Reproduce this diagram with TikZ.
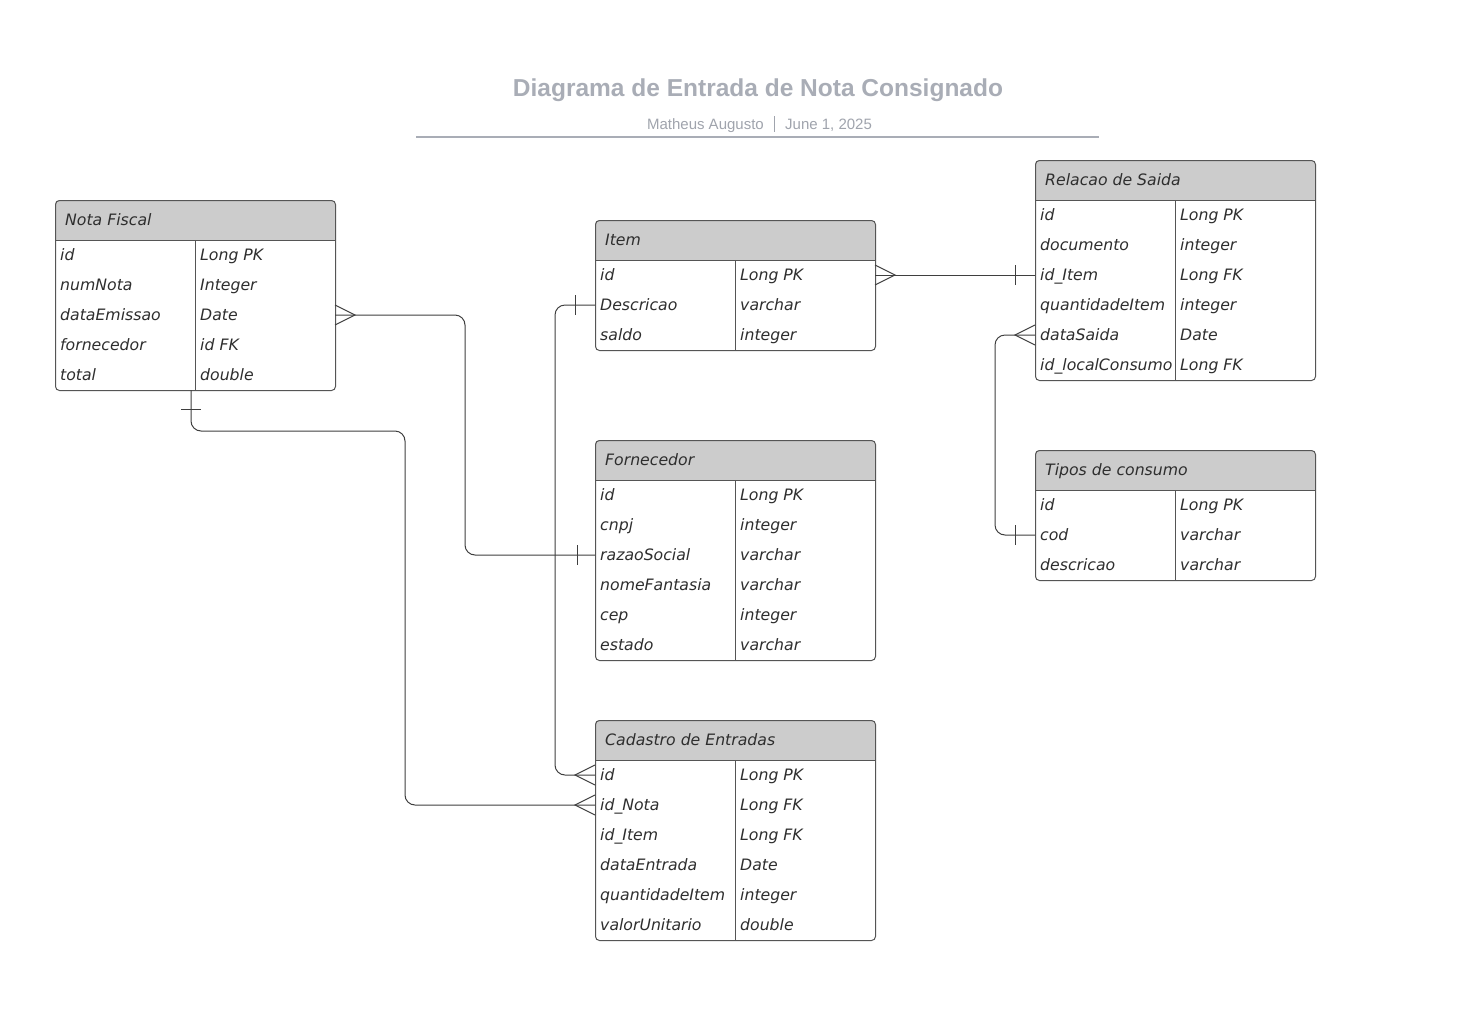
\documentclass[tikz,border=0pt]{standalone}
\usepackage{fontspec}
\setmainfont{DejaVu Sans}
\newfontfamily\titlefont{Liberation Sans}
\usetikzlibrary{calc}
\definecolor{hdrgray}{HTML}{CCCCCC}
\definecolor{bordergray}{HTML}{555555}
\definecolor{txtgray}{HTML}{2E2E2E}
\definecolor{titlegray}{HTML}{A9ADB6}
\definecolor{subgray}{HTML}{A0A4AD}
\definecolor{conngray}{HTML}{3F3F3F}
\tikzset{
  tblbox/.style={draw=bordergray, line width=1pt, rounded corners=4pt, minimum width=280pt, inner sep=0pt},
  tblline/.style={draw=bordergray, line width=1pt},
  hdrtext/.style={inner sep=0pt, text=txtgray, font=\fontsize{15.7}{18}\selectfont\itshape},
  rowtext/.style={inner sep=0pt, text=txtgray, font=\fontsize{15.7}{18}\selectfont\itshape},
  conn/.style={draw=conngray, line width=1pt},
}
\newcommand\ertable[6]{%
  \pgfmathsetmacro\hh{40+30*#4}%
  \begin{scope}
    \clip[rounded corners=4pt] (#2,#3) rectangle ++(280,\hh);
    \fill[white] (#2,#3) rectangle ++(280,\hh);
    \fill[hdrgray] (#2,#3) rectangle ++(280,40);
  \end{scope}
  \node[tblbox, minimum height=\hh pt, anchor=north west] (#1) at (#2,#3) {};
  \draw[tblline] (#2,#3+40) -- ++(280,0);
  \draw[tblline] (#2+140,#3+40) -- (#2+140,#3+\hh);
  \node[hdrtext, anchor=base west] (#1-h) at (#2+10,#3+25.7) {#5};
  \foreach \a/\b [count=\i] in {#6} {
    \node[rowtext, anchor=base west] (#1-a\i) at (#2+5,#3+30.7+30*\i) {\a};
    \node[rowtext, anchor=base west] (#1-b\i) at (#2+145,#3+30.7+30*\i) {\b};
    \coordinate (#1-L\i) at (#2,#3+25+30*\i);
    \coordinate (#1-R\i) at (#2+280,#3+25+30*\i);
  }
}
\newcommand\crowR[1]{\draw[conn] ([shift={(0,-10)}]#1) -- ([shift={(20,0)}]#1) -- ([shift={(0,10)}]#1);}
\newcommand\crowL[1]{\draw[conn] ([shift={(0,-10)}]#1) -- ([shift={(-20,0)}]#1) -- ([shift={(0,10)}]#1);}
\newcommand\barL[2]{\draw[conn] ([shift={(-#2,-10)}]#1) -- ([shift={(-#2,10)}]#1);}
\begin{document}
\begin{tikzpicture}[x=1pt,y=-1pt]
\useasboundingbox (0,0) rectangle (1478,1010);
\fill[white] (0,0) rectangle (1478,1010);

% title block
\node[text=titlegray, font=\titlefont\bfseries\fontsize{24.5}{28}\selectfont, anchor=base, inner sep=0pt] (title) at (758,96.5) {Diagrama de Entrada de Nota Consignado};
\node[text=subgray, font=\titlefont\fontsize{15}{17}\selectfont, anchor=base east, inner sep=0pt] (author) at (764,129.5) {Matheus Augusto};
\node[text=subgray, font=\titlefont\fontsize{15}{17}\selectfont, anchor=base west, inner sep=0pt] (date) at (785,129.5) {June 1, 2025};
\coordinate (sepT) at (774,116);
\coordinate (sepB) at (774,132);
\draw[subgray, line width=0.8pt] (sepT) -- (sepB);
\coordinate (ruleL) at (416,136.5);
\coordinate (ruleR) at (1099,136.5);
\draw[titlegray, line width=2pt] (ruleL) -- (ruleR);

% tables
\ertable{nf}{55}{200}{5}{Nota Fiscal}{id/Long PK, numNota/Integer, dataEmissao/Date, fornecedor/id FK, total/double}
\ertable{it}{595}{220}{3}{Item}{id/Long PK, Descricao/varchar, saldo/integer}
\ertable{fo}{595}{440}{6}{Fornecedor}{id/Long PK, cnpj/integer, razaoSocial/varchar, nomeFantasia/varchar, cep/integer, estado/varchar}
\ertable{cd}{595}{720}{6}{Cadastro de Entradas}{id/Long PK, id\_Nota/Long FK, id\_Item/Long FK, dataEntrada/Date, quantidadeItem/integer, valorUnitario/double}
\ertable{rs}{1035}{160}{6}{Relacao de Saida}{id/Long PK, documento/integer, id\_Item/Long FK, quantidadeItem/integer, dataSaida/Date, id\_localConsumo/Long FK}
\ertable{tc}{1035}{450}{3}{Tipos de consumo}{id/Long PK, cod/varchar, descricao/varchar}

% connectors
\coordinate (nf-bot) at (191,390);
\draw[conn, rounded corners=10pt] (nf-R3) -- ++(130,0) |- (fo-L3);
\crowR{nf-R3}
\barL{fo-L3}{18}

\draw[conn, rounded corners=10pt] (nf-bot) -- ++(0,41) -| ($(cd-L2)+(-190,0)$) -- (cd-L2);
\draw[conn] ([shift={(-10,19)}]nf-bot) -- ([shift={(10,19)}]nf-bot);
\crowL{cd-L2}

\draw[conn, rounded corners=10pt] (it-L2) -- ++(-40,0) |- (cd-L1);
\barL{it-L2}{20}
\crowL{cd-L1}

\draw[conn] (it-R1) -- (rs-L3);
\crowR{it-R1}
\barL{rs-L3}{20}

\draw[conn, rounded corners=10pt] (rs-L5) -- ++(-40,0) |- (tc-L2);
\crowL{rs-L5}
\barL{tc-L2}{20}
\end{tikzpicture}
\end{document}
